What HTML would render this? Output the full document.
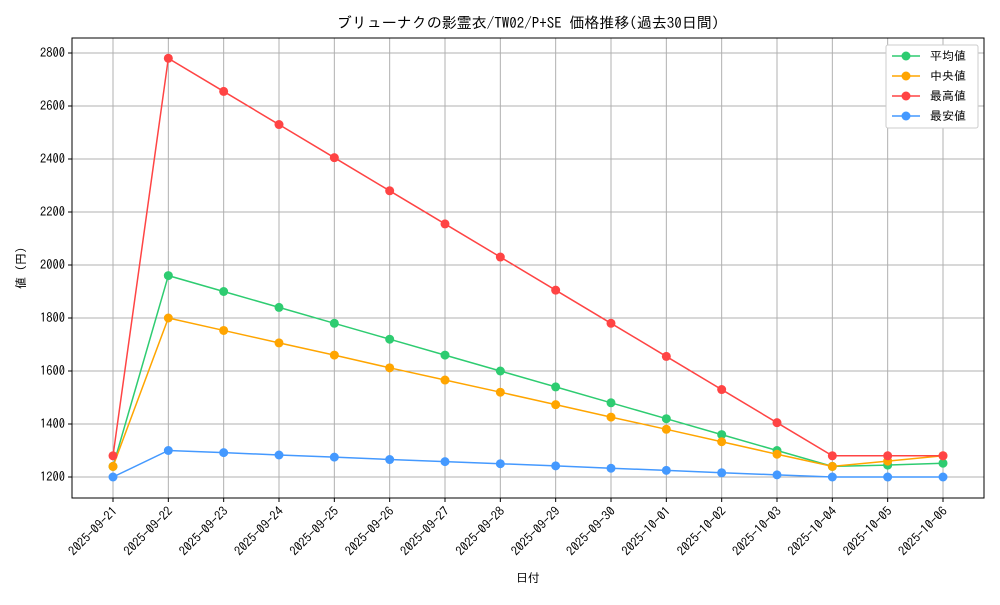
<!DOCTYPE html>
<html><head><meta charset="utf-8"><style>
body{margin:0;background:#fff;}
svg text{font-family:"IPAGothic","Liberation Sans","Noto Sans CJK JP",sans-serif;fill:#000;}
</style></head><body>
<svg id="chart" width="1000" height="600" xmlns="http://www.w3.org/2000/svg">
<rect width="1000" height="600" fill="#fff"/>
<text x="528" y="28" font-size="15" text-anchor="middle">ブリューナクの影霊衣/TW02/P+SE 価格推移(過去30日間)</text>
<g id="grid"></g><g id="axes"></g><g id="series"></g>
<rect x="72" y="38" width="912" height="460" fill="none" stroke="#000" stroke-width="1"/>
<text x="528" y="582" font-size="12" text-anchor="middle">日付</text>
<text transform="translate(25,268) rotate(-90)" font-size="12" text-anchor="middle">値 (円)</text>
<g id="legend"></g>
</svg>
<script>
const dates=["2025-09-21","2025-09-22","2025-09-23","2025-09-24","2025-09-25","2025-09-26","2025-09-27","2025-09-28","2025-09-29","2025-09-30","2025-10-01","2025-10-02","2025-10-03","2025-10-04","2025-10-05","2025-10-06"];
const avgValues=[1240,1960,1900,1840,1780,1720,1660,1600,1540,1480,1420,1360,1300,1240,1245,1252];
const medianValues=[1240,1800,1753,1706,1660,1612,1566,1520,1473,1426,1380,1333,1286,1240,1260,1280];
const maxValues=[1280,2780,2655,2530,2405,2280,2155,2030,1905,1780,1655,1530,1405,1280,1280,1280];
const minValues=[1200,1300,1292,1283,1275,1266,1258,1250,1242,1233,1225,1216,1208,1200,1200,1200];
const yTicks=[1200,1400,1600,1800,2000,2200,2400,2600,2800];
const seriesNames=["平均値","中央値","最高値","最安値"];
const colors=["#2ecc71","#ffa500","#ff4444","#4499ff"];
const NS="http://www.w3.org/2000/svg";
const x=i=>113+i*(943-113)/(dates.length-1);
const y=v=>477-(v-1200)*(477-53)/1600;
function mk(t,a,p){const e=document.createElementNS(NS,t);for(const k in a)e.setAttribute(k,a[k]);p.appendChild(e);return e;}
const grid=document.getElementById('grid'),axes=document.getElementById('axes'),ser=document.getElementById('series'),leg=document.getElementById('legend');
dates.forEach((d,i)=>{
 const g=mk('line',{x1:x(i),x2:x(i),y1:38,y2:498,stroke:'#b0b0b0','stroke-width':1},grid);
 
 
 mk('line',{x1:x(i),x2:x(i),y1:498,y2:502,stroke:'#000'},axes);
 const t=mk('text',{x:0,y:0,'font-size':12.5,'text-anchor':'end',transform:`translate(${x(i)+5},${512}) rotate(-45)`},axes);
 t.textContent=d;
 
 
});
yTicks.forEach(v=>{
 const g=mk('line',{x1:72,x2:984,y1:y(v),y2:y(v),stroke:'#b0b0b0','stroke-width':1},grid);
 
 
 mk('line',{x1:68,x2:72,y1:y(v),y2:y(v),stroke:'#000'},axes);
 const t=mk('text',{x:65,y:y(v)+4,'font-size':12.5,'text-anchor':'end'},axes);
 t.textContent=v;
 
 
});
[avgValues,medianValues,maxValues,minValues].forEach((vals,s)=>{
 const pl=mk('polyline',{points:vals.map((v,i)=>x(i)+','+y(v)).join(' '),fill:'none',stroke:colors[s],'stroke-width':1.5},ser);
 
 
 vals.forEach((v,i)=>{
  const c=mk('circle',{cx:x(i),cy:y(v),r:4.5,fill:colors[s]},ser);
  
  
 });
});
const box=mk('rect',{x:886,y:45,width:92,height:83,fill:'#fff',stroke:'#ccc',rx:2},leg);


seriesNames.forEach((n,s)=>{
 const yy=56+s*20;
 const g=mk('g',{},leg);
 
 
 mk('line',{x1:892,x2:920,y1:yy,y2:yy,stroke:colors[s],'stroke-width':1.5},g);
 mk('circle',{cx:906,cy:yy,r:4.5,fill:colors[s]},g);
 const t=mk('text',{x:930,y:yy+4,'font-size':12},g);t.textContent=n;
});
</script>
</body></html>
